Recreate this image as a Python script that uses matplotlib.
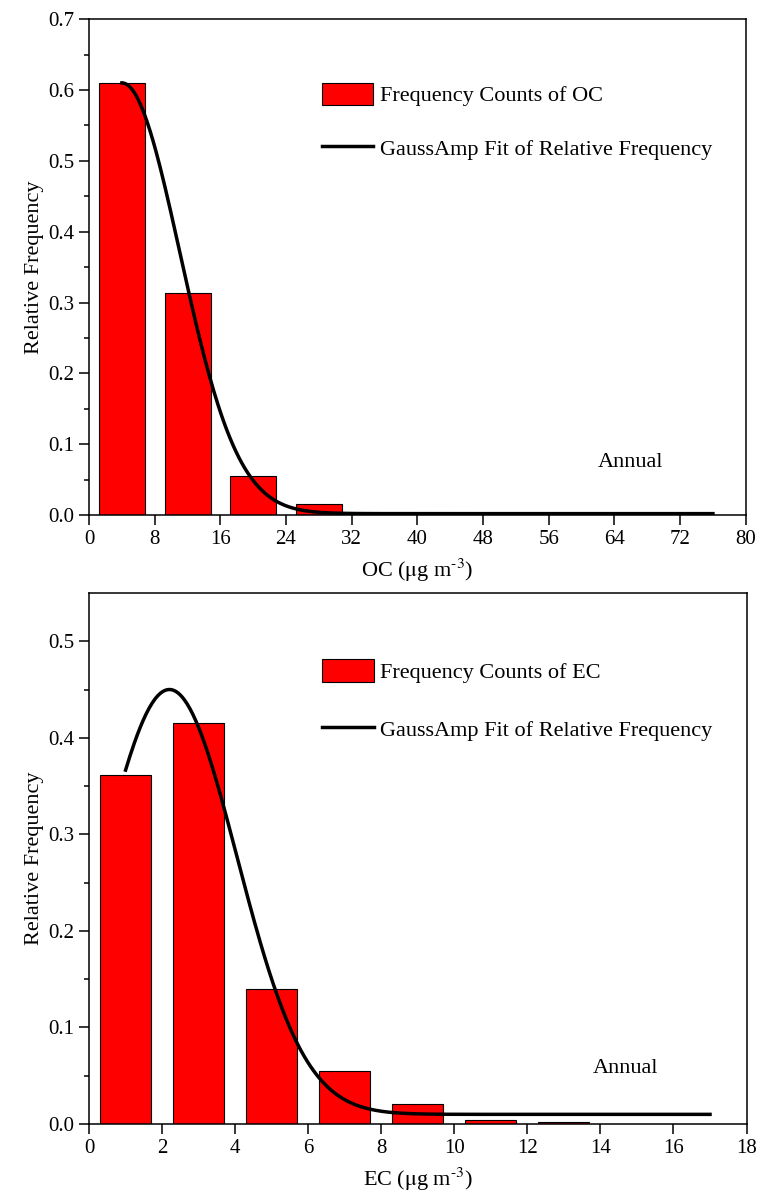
import numpy as np
from matplotlib import pyplot as plt

plt.rcParams['font.family'] = ['Liberation Serif', 'DejaVu Serif']
plt.rcParams['mathtext.fontset'] = 'stix'
plt.rcParams['font.size'] = 16

# OC histogram (bin centres, relative frequency)
oc_bins = [4, 12, 20, 28, 36, 44]
oc_freq = [0.61, 0.314, 0.055, 0.016, 0.002, 0.001]
# GaussAmp fit: y = y0 + A*exp(-(x-xc)^2 / (2 w^2))
oc_fit = dict(y0=0.002, A=0.608, xc=4.0, w=7.06)
oc_range = (4, 76)

# EC histogram
ec_bins = [1, 3, 5, 7, 9, 11, 13]
ec_freq = [0.361, 0.415, 0.140, 0.055, 0.021, 0.004, 0.002]
ec_fit = dict(y0=0.01, A=0.44, xc=2.2, w=1.85)
ec_range = (1, 17)


def gauss_amp(x, y0, A, xc, w):
    return y0 + A * np.exp(-(x - xc) ** 2 / (2 * w ** 2))


def panel(ax, bins, freq, bw, fit, xr, name, xlim, xticks, ylim, yticks, ann, leg_y, spacing):
    bars = ax.bar(bins, freq, width=bw * 0.7, color='red', edgecolor='black', linewidth=0.8,
                  zorder=2)
    xs = np.linspace(xr[0], xr[1], 400)
    line, = ax.plot(xs, gauss_amp(xs, **fit), color='black', linewidth=2.5, zorder=3)
    ax.set_xlim(*xlim)
    ax.set_ylim(*ylim)
    ax.set_xticks(xticks)
    ax.set_yticks(yticks)
    ax.set_yticklabels(['%.1f' % v for v in yticks])
    ax.set_yticks(np.arange(ylim[0] + 0.05, ylim[1], 0.1), minor=True)
    ax.tick_params(which='major', direction='out', length=7, width=1.1, labelsize=15)
    ax.tick_params(which='minor', direction='out', length=3.5, width=1.1)
    for s in ax.spines.values():
        s.set_linewidth(1.1)
    ax.set_ylabel('Relative Frequency', labelpad=3)
    ax.set_xlabel(name + r' ($\mathrm{\mu}$g m$^{\text{-3}}$)', labelpad=6)
    ax.text(ann[0], ann[1], 'Annual', ha='center', va='center')
    ax.legend([bars, line], ['Frequency Counts of ' + name, 'GaussAmp Fit of Relative Frequency'],
              loc='upper left', bbox_to_anchor=(0.355, leg_y), frameon=False,
              handlelength=2.3, handleheight=1.2, labelspacing=spacing,
              borderpad=0, borderaxespad=0, handletextpad=0.3)


fig = plt.figure(figsize=(7.61, 11.95), dpi=100)
ax1 = fig.add_axes([0.117, 0.569, 0.863, 0.415])
ax2 = fig.add_axes([0.117, 0.0594, 0.864, 0.4444])

panel(ax1, oc_bins, oc_freq, 8, oc_fit, oc_range, 'OC', (0, 80), range(0, 81, 8),
      (0, 0.7), np.arange(0, 0.71, 0.1), (66, 0.074), 0.872, 1.35)
panel(ax2, ec_bins, ec_freq, 2, ec_fit, ec_range, 'EC', (0, 18), range(0, 19, 2),
      (0, 0.55), np.arange(0, 0.51, 0.1), (14.7, 0.058), 0.876, 1.55)

fig.savefig('out.png')
